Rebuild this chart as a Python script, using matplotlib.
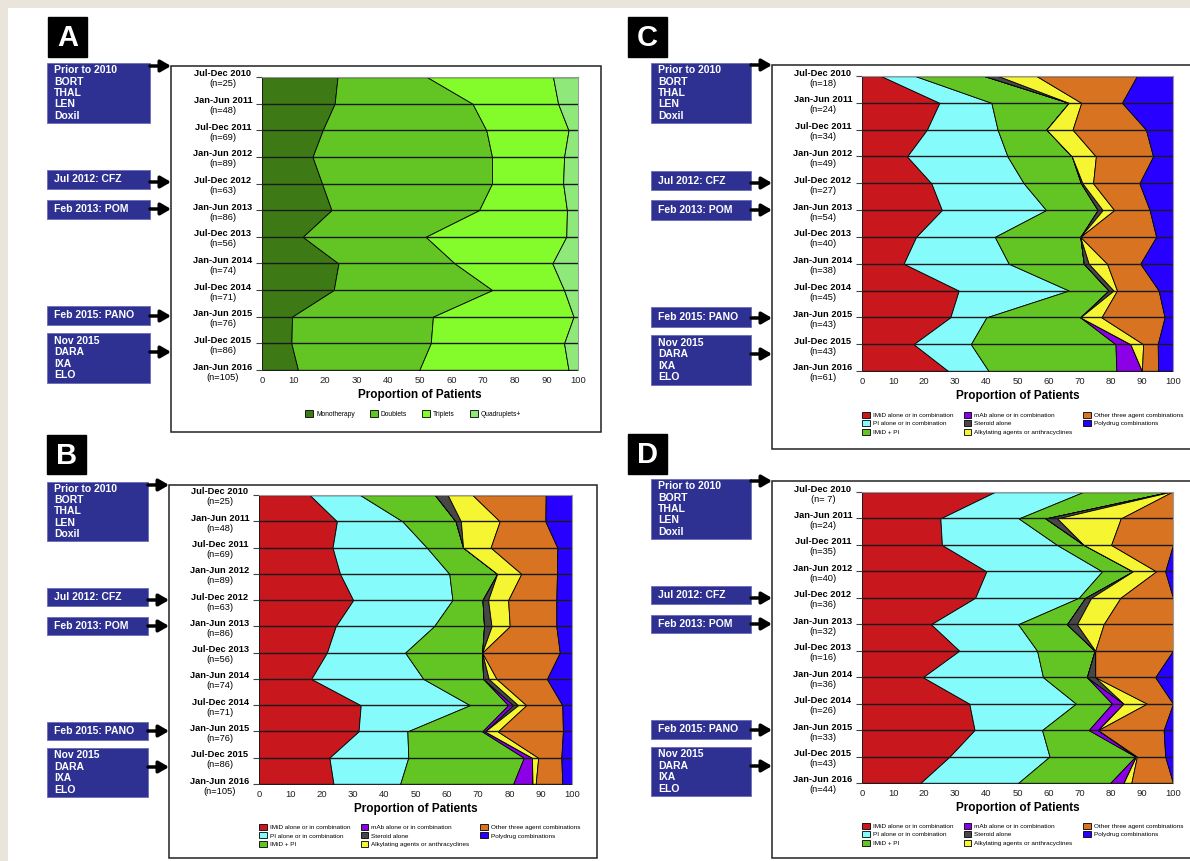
import matplotlib
import numpy as np
from matplotlib import pyplot as plt
from matplotlib.patches import Rectangle

matplotlib.use("Agg")

# Arial look-alike
matplotlib.rcParams["font.sans-serif"] = "Liberation Sans"
matplotlib.rcParams["font.family"] = "sans-serif"

W, H = 1190, 861

# ---- data -------------------------------------------------------------
periods = [
    "Jul-Dec 2010", "Jan-Jun 2011", "Jul-Dec 2011", "Jan-Jun 2012",
    "Jul-Dec 2012", "Jan-Jun 2013", "Jul-Dec 2013", "Jan-Jun 2014",
    "Jul-Dec 2014", "Jan-Jun 2015", "Jul-Dec 2015", "Jan-Jun 2016",
]
n_a = [25, 48, 69, 89, 63, 86, 56, 74, 71, 76, 86, 105]
n_b = [25, 48, 69, 89, 63, 86, 56, 74, 71, 76, 86, 105]
n_c = [18, 24, 34, 49, 27, 54, 40, 38, 45, 43, 43, 61]
n_d = [7, 24, 35, 40, 36, 32, 16, 36, 26, 33, 43, 44]

events = [
    "Prior to 2010\nBORT\nTHAL\nLEN\nDoxil",
    "Jul 2012: CFZ",
    "Feb 2013: POM",
    "Feb 2015: PANO",
    "Nov 2015\nDARA\nIXA\nELO",
]

# panel A: number of agents
count_names = ["Monotherapy", "Doublets", "Triplets", "Quadruplets+"]
mono_a = [23.9, 23.0, 19.2, 16.0, 19.0, 22.0, 12.9, 24.2, 22.7, 9.5, 9.3, 11.4]
doub_a = [28.3, 43.6, 51.8, 56.8, 53.8, 46.7, 38.9, 36.8, 50.2, 44.6, 44.1, 38.4]
trip_a = [39.9, 27.1, 26.0, 22.8, 22.5, 27.8, 44.5, 30.9, 22.7, 44.5, 42.2, 47.2]
quad_a = [7.9, 6.3, 3.0, 4.4, 4.7, 3.5, 3.7, 8.1, 4.4, 1.4, 4.4, 3.0]

# panels B-D: regimen class
class_names = [
    "IMiD alone or in combination", "PI alone or in combination", "IMiD + PI",
    "mAb alone or in combination", "Steroid alone",
    "Alkylating agents or anthracyclines",
    "Other three agent combinations", "Polydrug combinations",
]

imid_b = [16.2, 24.9, 23.5, 25.9, 30.1, 24.5, 21.7, 16.7, 32.5, 31.8, 22.5, 23.8]
pi_b = [16.1, 20.9, 30.1, 34.9, 31.7, 31.4, 25.0, 35.8, 34.9, 15.6, 25.2, 21.3]
imidpi_b = [23.9, 17.0, 11.6, 15.3, 9.6, 16.0, 24.6, 19.1, 12.2, 23.9, 36.9, 36.1]
mab_b = [0, 0, 0, 0, 0, 0, 0, 0, 1.6, 0.9, 2.6, 6.2]
ster_b = [4.1, 1.7, 0, 0, 1.8, 2.4, 0, 1.8, 1.6, 0, 0, 0]
alk_b = [7.9, 12.4, 8.8, 7.7, 6.4, 5.8, 0, 2.5, 2.6, 4.1, 2.0, 1.0]
three_b = [23.4, 14.6, 21.3, 11.4, 15.4, 14.9, 24.8, 16.1, 11.5, 20.8, 7.4, 8.5]
poly_b = [8.4, 8.5, 4.7, 4.8, 5.0, 5.0, 3.9, 8.0, 3.1, 2.9, 3.4, 3.1]

imid_c = [6.1, 24.9, 20.9, 14.5, 22.3, 25.7, 17.4, 13.4, 31.1, 28.4, 16.6, 27.7]
pi_c = [11.0, 16.7, 22.7, 32.3, 29.7, 33.5, 25.3, 33.8, 35.4, 11.6, 18.4, 13.0]
imidpi_c = [22.2, 24.9, 15.7, 20.7, 18.4, 16.6, 27.5, 24.1, 12.8, 30.2, 46.5, 41.1]
mab_c = [0, 0, 0, 0, 0, 0, 0, 0, 0, 0, 4.8, 8.2]
ster_c = [4.5, 0, 0, 0, 0.5, 1.6, 0, 1.6, 1.6, 0, 0, 0]
alk_c = [12.3, 4.0, 8.4, 7.7, 3.4, 3.7, 0, 5.9, 1.1, 6.8, 4.1, 0]
three_c = [32.3, 13.1, 23.6, 18.4, 14.9, 11.4, 24.4, 10.7, 13.4, 20.3, 4.7, 5.2]
poly_c = [11.6, 16.4, 8.7, 6.4, 10.8, 7.5, 5.4, 10.5, 4.6, 2.7, 4.9, 4.8]

imid_d = [42.7, 25.2, 25.7, 40.0, 36.4, 22.2, 31.3, 19.6, 34.5, 36.2, 28.2, 18.8]
pi_d = [28.4, 25.2, 37.0, 37.2, 33.3, 28.0, 25.0, 38.6, 34.3, 21.7, 32.1, 31.4]
imidpi_d = [27.5, 8.6, 8.6, 9.9, 2.1, 15.7, 18.5, 14.1, 11.6, 15.0, 27.6, 29.6]
mab_d = [0, 0, 0, 0, 0, 0, 0, 0, 3.7, 3.0, 0.2, 4.3]
ster_d = [0.4, 3.8, 0, 0, 1.9, 3.2, 0.2, 2.7, 0, 0, 0, 0]
alk_d = [0.6, 20.4, 8.8, 7.5, 9.4, 8.6, 0, 0, 7.5, 0, 0.3, 2.5]
three_d = [0.4, 16.8, 19.9, 2.9, 16.9, 22.3, 25.0, 19.3, 8.4, 21.1, 9.1, 13.4]
poly_d = [0, 0, 0, 2.5, 0, 0, 0, 5.7, 0, 3.0, 2.5, 0]

count_colors = ["#3d7a16", "#63c523", "#84fb2a", "#8ee97a"]
class_colors = ["#c9171e", "#86fbfb", "#63c523", "#8c00e8",
                "#474747", "#f6f532", "#d77321", "#2800ff"]
BOX_BLUE = "#2e3192"


def px_rect(x0, y0, x1, y1):
    # pixel box (top-left origin) -> figure fraction rect
    return [x0 / W, 1 - y1 / H, (x1 - x0) / W, (y1 - y0) / H]


def draw_chart(ax, series, colors, names, ns):
    y = np.arange(len(periods))
    left = np.zeros(len(periods))
    for vals, c, name in zip(series, colors, names):
        right = left + np.array(vals)
        ax.fill_betweenx(y, left, right, facecolor=c, edgecolor="black",
                         linewidth=0.6, label=name)
        left = right
    # dark line across each period
    ax.hlines(y, 0, 100, color="#1a1a1a", linewidth=1.0)

    ax.set_xlim(0, 100)
    ax.set_ylim(len(periods) - 1, 0)
    ax.set_xticks(range(0, 101, 10))
    ax.tick_params(axis="x", length=0, pad=4.5, labelsize=6.8, colors="#222222")
    ax.set_yticks(y)
    ax.set_yticklabels([])
    ax.tick_params(axis="y", length=4, width=0.8, color="#444444")
    ax.set_xlabel("Proportion of Patients", fontsize=8.5, fontweight="bold",
                  labelpad=3)
    for s in ["left", "bottom"]:
        ax.spines[s].set_visible(False)
    for s in ["top", "right"]:
        ax.spines[s].set_color("#9a9a9a")

    # two-line period labels: bold period, (n=..) underneath
    for i, (p, n) in enumerate(zip(periods, ns)):
        ax.annotate(p, xy=(0, i), xycoords=("axes fraction", "data"),
                    xytext=(-39, 3), textcoords="offset pixels",
                    ha="center", va="center", fontsize=6.7, fontweight="bold")
        ax.annotate(f"(n={n:>2})", xy=(0, i), xycoords=("axes fraction", "data"),
                    xytext=(-39, -7), textcoords="offset pixels",
                    ha="center", va="center", fontsize=6.7)


def draw_frame(bg, letter, letter_box, frame, box_x, box_ys, arrow_ys):
    lx0, ly0, lx1, ly1 = letter_box
    bg.add_patch(Rectangle((lx0, ly0), lx1 - lx0, ly1 - ly0, color="black"))
    bg.text((lx0 + lx1) / 2, (ly0 + ly1) / 2 + 1, letter, color="white",
            fontsize=21, fontweight="bold", ha="center", va="center")

    fx0, fy0, fx1, fy1 = frame
    bg.add_patch(Rectangle((fx0, fy0), fx1 - fx0, fy1 - fy0, facecolor="white",
                           edgecolor="#222222", linewidth=1.1))

    bx0, bx1 = box_x
    for label, (by0, by1), ay in zip(events, box_ys, arrow_ys):
        bg.add_patch(Rectangle((bx0, by0), bx1 - bx0, by1 - by0,
                               facecolor=BOX_BLUE, edgecolor="#6a6cb8",
                               linewidth=0.6))
        bg.text(bx0 + 7, (by0 + by1) / 2, label, color="white", fontsize=7.5,
                fontweight="bold", ha="left", va="center", linespacing=1.18)
        bg.annotate("", xy=(fx0, ay), xytext=(bx1, ay),
                    arrowprops=dict(arrowstyle="-|>,head_length=0.6,head_width=0.35",
                                    lw=2.5, color="black", shrinkA=0, shrinkB=0))


fig = plt.figure(figsize=(W / 100, H / 100), dpi=100)
fig.patch.set_facecolor("#e9e5da")

bg = fig.add_axes([0, 0, 1, 1], zorder=0)
bg.set_xlim(0, W)
bg.set_ylim(H, 0)
bg.axis("off")
bg.add_patch(Rectangle((8, 8), W, H, facecolor="white", edgecolor="none"))

draw_frame(bg, "A", (48, 17, 87, 57), (171, 66, 601, 432), (47, 150),
           [(63, 123), (170, 189), (200, 219), (306, 325), (333, 383)],
           [66, 182, 209, 316, 352])
draw_frame(bg, "C", (628, 17, 667, 57), (772, 65, 1205, 449), (651, 751),
           [(63, 123), (171, 190), (200, 220), (307, 327), (335, 385)],
           [65, 183, 210, 318, 354])
draw_frame(bg, "B", (47, 435, 86, 474), (169, 485, 597, 858), (47, 148),
           [(482, 541), (588, 606), (617, 635), (722, 740), (748, 797)],
           [485, 600, 626, 731, 767])
draw_frame(bg, "D", (628, 434, 667, 474), (772, 481, 1205, 858), (651, 751),
           [(479, 539), (586, 604), (615, 633), (720, 739), (747, 796)],
           [481, 598, 624, 730, 766])

# panel A
ax_a = fig.add_axes(px_rect(262, 77, 578, 370), zorder=2)
draw_chart(ax_a, [mono_a, doub_a, trip_a, quad_a], count_colors, count_names, n_a)
ax_a.legend(loc="center", bbox_to_anchor=(0.478, -0.150), ncol=4, frameon=False,
            fontsize=4.8, handlelength=1.2, handleheight=1.2, handletextpad=0.5,
            columnspacing=2.2, borderpad=0)

# panels B, C, D
panels = [
    (px_rect(259, 495, 572, 784), [imid_b, pi_b, imidpi_b, mab_b, ster_b, alk_b, three_b, poly_b], n_b, -0.138),
    (px_rect(862, 76, 1173, 371), [imid_c, pi_c, imidpi_c, mab_c, ster_c, alk_c, three_c, poly_c], n_c, -0.138),
    (px_rect(862, 492, 1173, 783), [imid_d, pi_d, imidpi_d, mab_d, ster_d, alk_d, three_d, poly_d], n_d, -0.136),
]
for rect, series, ns, leg_y in panels:
    ax = fig.add_axes(rect, zorder=2)
    draw_chart(ax, series, class_colors, class_names, ns)
    ax.legend(loc="upper left", bbox_to_anchor=(0, leg_y), ncol=3, frameon=False,
              fontsize=4.6, handlelength=1.2, handleheight=1.1, handletextpad=0.5,
              columnspacing=1.6, labelspacing=0.35, borderpad=0, borderaxespad=0)

fig.savefig("out.png", dpi=100)
